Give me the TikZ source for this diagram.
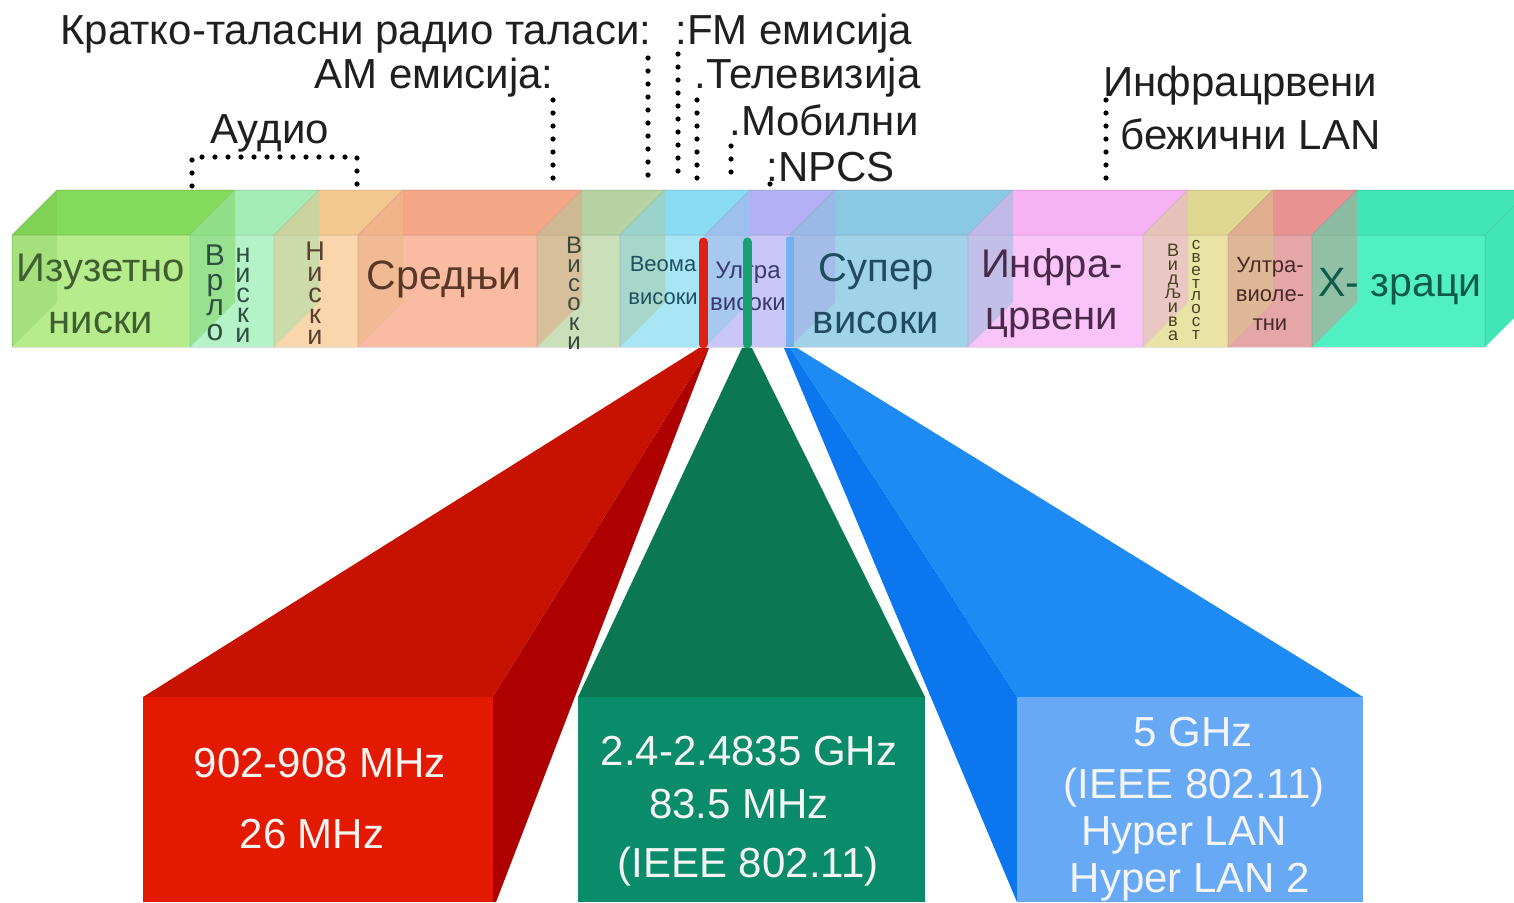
\documentclass[tikz,border=0pt]{standalone}
\usepackage{fontspec}
\setmainfont{Liberation Sans}
% band colours: front face / top face / label
\definecolor{fA}{HTML}{B6EC8C}\definecolor{tA}{HTML}{84DA5A}\definecolor{lA}{HTML}{3F5F30}
\definecolor{fB}{HTML}{B4F2C8}\definecolor{tB}{HTML}{A4ECB6}\definecolor{lB}{HTML}{2F4F3F}
\definecolor{fC}{HTML}{F9D6AC}\definecolor{tC}{HTML}{F5C892}\definecolor{lC}{HTML}{5A4030}
\definecolor{fD}{HTML}{F9BBA2}\definecolor{tD}{HTML}{F5A686}\definecolor{lD}{HTML}{5A3828}
\definecolor{fE}{HTML}{CADFBA}\definecolor{tE}{HTML}{B6D2A2}\definecolor{lE}{HTML}{3A4A3A}
\definecolor{fF}{HTML}{A8E6F5}\definecolor{tF}{HTML}{8ADCF4}\definecolor{lF}{HTML}{1F5060}
\definecolor{fG}{HTML}{CAC6F8}\definecolor{tG}{HTML}{B4B0F4}\definecolor{lG}{HTML}{3A3A70}
\definecolor{fH}{HTML}{A0D2E8}\definecolor{tH}{HTML}{8AC8E4}\definecolor{lH}{HTML}{1F4A60}
\definecolor{fI}{HTML}{F9C4F8}\definecolor{tI}{HTML}{F7B2F3}\definecolor{lI}{HTML}{4A2A4A}
\definecolor{fJ}{HTML}{E9E3A6}\definecolor{tJ}{HTML}{E0D890}\definecolor{lJ}{HTML}{4A4020}
\definecolor{fK}{HTML}{E4A6A6}\definecolor{tK}{HTML}{E89292}\definecolor{lK}{HTML}{4A2828}
\definecolor{fL}{HTML}{50F0C2}\definecolor{tL}{HTML}{42E6B6}\definecolor{lL}{HTML}{0F5A48}
% zoom wedges
\definecolor{redtop}{HTML}{C81200}\definecolor{redside}{HTML}{AE0000}\definecolor{redfront}{HTML}{E41A00}
\definecolor{grntop}{HTML}{0B7853}\definecolor{grnfront}{HTML}{0A8C6B}
\definecolor{blutop}{HTML}{1E8AF3}\definecolor{bluside}{HTML}{0B76EE}\definecolor{blufront}{HTML}{68A9F5}
\definecolor{barred}{HTML}{E02010}\definecolor{bargrn}{HTML}{18A070}\definecolor{barblu}{HTML}{6AAEF2}
\definecolor{wtext}{HTML}{F4F4F4}

% one glassy slab of the spectrum: x1, x2, front colour, top colour
\newcommand{\specbox}[4]{%
  \fill[#4] (#1,235) -- (#1+45,190) -- (#2+45,190) -- (#2,235) -- cycle;
  \fill[#3] (#1,235) rectangle (#2,347);
  \fill[#4!85!black, fill opacity=.22] (#1,235) -- (#1+45,190) -- (#1+45,302) -- (#1,347) -- cycle;
  \draw[#4!70!black, draw opacity=.35, line width=.5pt] (#1,347) -- (#1,235) -- (#2,235) (#1,235) -- (#1+45,190) -- (#2+45,190);
}
% the right face of a slab, seen through the next one
\newcommand{\sideface}[2]{%
  \fill[#2, fill opacity=.45] (#1,235) -- (#1+45,190) -- (#1+45,302) -- (#1,347) -- cycle;
}

\begin{document}
\begin{tikzpicture}[x=0.5pt, y=-0.5pt,
  dots/.style={line width=2.6pt, line cap=round, dash pattern=on 0pt off 6.5pt},
  toplabel/.style={font=\fontsize{21}{24}\selectfont, anchor=base west, inner sep=0pt, text=black!88},
  biglabel/.style={font=\fontsize{20}{26}\selectfont, align=center, inner sep=0pt},
  stack/.style={align=center, inner sep=0pt},
  wedgetext/.style={font=\fontsize{21}{24}\selectfont, text=wtext, anchor=base, inner sep=0pt},
  bar/.style={line width=4.5pt, line cap=round}]
\useasboundingbox (0,0) rectangle (1514,902);
\begin{scope}
\clip (0,0) rectangle (1514,902);

% ---- spectrum slabs ----
\specbox{12}{190}{fA}{tA}
\specbox{190}{274}{fB}{tB}
\specbox{274}{358}{fC}{tC}
\specbox{358}{537}{fD}{tD}
\specbox{537}{620}{fE}{tE}
\specbox{620}{705}{fF}{tF}
\specbox{705}{790}{fG}{tG}
\specbox{790}{968}{fH}{tH}
\specbox{968}{1143}{fI}{tI}
\specbox{1143}{1228}{fJ}{tJ}
\specbox{1228}{1312}{fK}{tK}
\specbox{1312}{1485}{fL}{tL}
\sideface{190}{tA}
\sideface{274}{tB}
\sideface{358}{tC}
\sideface{537}{tD}
\sideface{620}{tE}
\sideface{705}{tF}
\sideface{790}{tG}
\sideface{968}{tH}
\sideface{1143}{tI}
\sideface{1228}{tJ}
\sideface{1312}{tK}
\fill[tL] (1485,235) -- (1530,190) -- (1530,302) -- (1485,347) -- cycle;
\draw[tL!70!black, draw opacity=.35, line width=.5pt] (1485,347) -- (1485,235) -- (1530,190);
\draw[black!30, draw opacity=.4, line width=.5pt] (12,347) -- (1485,347);

% ---- band names ----
\node[biglabel, text=lA] (izuz) at (101,294) {Изузетно\\ниски};
\node[stack, text=lB, font=\fontsize{15}{12.5}\selectfont] (vrlo) at (215,293) {В\\р\\л\\о};
\node[stack, text=lB, font=\fontsize{13.5}{10}\selectfont] (vrlon) at (243,295) {н\\и\\с\\к\\и};
\node[stack, text=lC, font=\fontsize{13.5}{10.5}\selectfont] (niski) at (315,293) {Н\\и\\с\\к\\и};
\node[biglabel, text=lD, font=\fontsize{20.5}{26}\selectfont] (sred) at (444,279) {Средњи};
\node[stack, text=lE, font=\fontsize{12}{9.6}\selectfont] (vis) at (574,293) {В\\и\\с\\о\\к\\и};
\node[stack, text=lF, font=\fontsize{11}{16.5}\selectfont] (veoma) at (663,281) {Веома\\високи};
\node[stack, text=lG, font=\fontsize{12}{16}\selectfont] (ultra) at (748,286) {Ултра\\високи};
\node[biglabel, text=lH] (super) at (876,294) {Супер\\високи};
\node[biglabel, text=lI] (infra) at (1052,293) {Инфра-\\црвени};
\node[stack, text=lJ, font=\fontsize{9}{7}\selectfont] (vidl) at (1173,292) {В\\и\\д\\љ\\и\\в\\а};
\node[stack, text=lJ, font=\fontsize{8.5}{6.4}\selectfont] (svet) at (1196,290) {с\\в\\е\\т\\л\\о\\с\\т};
\node[stack, text=lK, font=\fontsize{11}{14.5}\selectfont] (uv) at (1270,294) {Ултра-\\виоле-\\тни};
\node[biglabel, text=lL, font=\fontsize{20.5}{26}\selectfont] (xray) at (1400,287) {X- зраци};

% ---- markers for the three ISM bands ----
\fill[barblu, fill opacity=.85] (786,237) rectangle (794,347);
\draw[bar, barred] (703,242) -- (703,344);
\draw[bar, bargrn] (747,242) -- (747,344);

% ---- zoomed wedges ----
\fill[redtop] (699,348) -- (709,348) -- (493,697) -- (143,697) -- cycle;
\fill[redside] (709,348) -- (496,902) -- (493,902) -- (493,697) -- cycle;
\fill[redfront] (143,697) rectangle (493,902);

\fill[grntop] (742,348) -- (752,348) -- (925,697) -- (578,697) -- cycle;
\fill[grnfront] (578,697) rectangle (925,902);

\fill[blutop] (790,348) -- (797,348) -- (1363,697) -- (1017,697) -- cycle;
\fill[bluside] (784,348) -- (790,348) -- (1017,697) -- (1017,902) -- cycle;
\fill[blufront] (1017,697) rectangle (1363,902);
\end{scope}

\node[wedgetext] (r1) at (320,777) {902-908 MHz};
\node[wedgetext] (r2) at (312,848) {26 MHz};
\node[wedgetext] (g1) at (749,765) {2.4-2.4835 GHz};
\node[wedgetext] (g2) at (739,818) {83.5 MHz};
\node[wedgetext] (g3) at (748,877) {(IEEE 802.11)};
\node[wedgetext] (b1) at (1193,746) {5 GHz};
\node[wedgetext] (b2) at (1194,798) {(IEEE 802.11)};
\node[wedgetext] (b3) at (1184,845) {Hyper LAN};
\node[wedgetext] (b4) at (1190,892) {Hyper LAN 2};

% ---- services above the spectrum ----
\node[toplabel] (sw) at (60,44) {Кратко-таласни радио таласи:};
\node[toplabel] (fm) at (675,44) {:FM емисија};
\node[toplabel] (am) at (314,88) {AM емисија:};
\node[toplabel] (tv) at (694,88) {.Телевизија};
\node[toplabel] (audio) at (210,143) {Аудио};
\node[toplabel] (mob) at (729,135) {.Мобилни};
\node[toplabel] (npcs) at (766,181) {:NPCS};
\node[toplabel] (irl1) at (1103,96) {Инфрацрвени};
\node[toplabel] (irl2) at (1120,149) {бежични LAN};

\coordinate (swT) at (648,58);   \coordinate (swB) at (648,184);
\coordinate (fmT) at (678,54);   \coordinate (fmB) at (678,184);
\coordinate (amT) at (553,100);  \coordinate (amB) at (553,184);
\coordinate (tvT) at (697,100);  \coordinate (tvB) at (697,190);
\coordinate (mobT) at (731,146); \coordinate (mobB) at (731,182);
\coordinate (npT) at (770,184);  \coordinate (npB) at (770,186);
\coordinate (irT) at (1106,100); \coordinate (irB) at (1106,186);
\coordinate (auL) at (192,186);  \coordinate (auR) at (357,186);

\draw[dots] (swT) -- (swB);
\draw[dots] (fmT) -- (fmB);
\draw[dots] (amT) -- (amB);
\draw[dots] (tvT) -- (tvB);
\draw[dots] (mobT) -- (mobB);
\draw[dots] (npT) -- (npB);
\draw[dots] (irT) -- (irB);
\draw[dots] (auL) -- (192,157) -- (357,157) -- (auR);
\end{tikzpicture}
\end{document}
